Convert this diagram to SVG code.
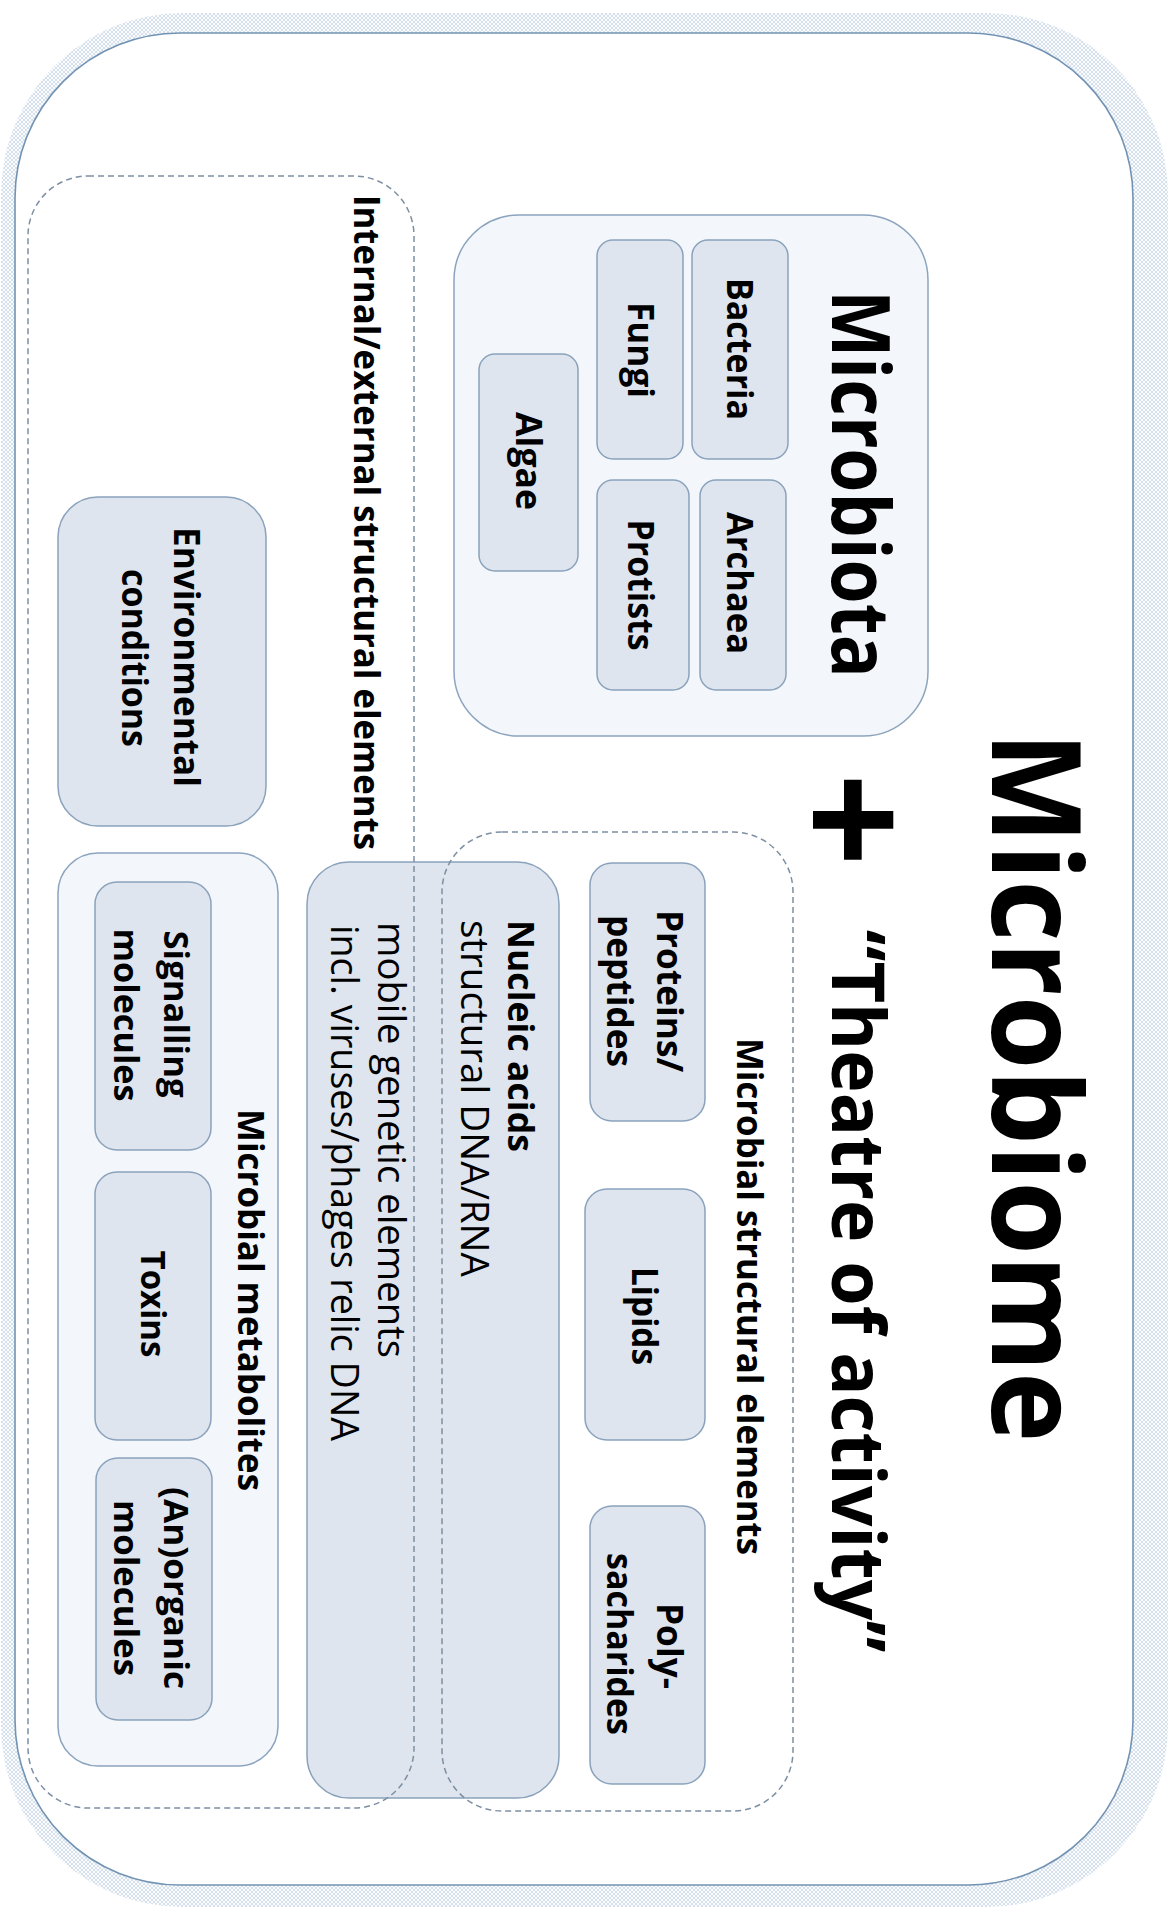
<svg xmlns="http://www.w3.org/2000/svg" width="1169" height="1914" viewBox="0 0 1169 1914">
<defs>
<pattern id="hatch" width="4" height="4" patternUnits="userSpaceOnUse">
<rect width="4" height="4" fill="#fbfcfe"/>
<path d="M0,0 L4,4 M4,0 L0,4" stroke="#bccddf" stroke-width="0.6"/>
</pattern>
</defs>
<style>
.t{font-family:"Open Sans","Noto Sans","DejaVu Sans",sans-serif;fill:#000}
.b{font-weight:700}
.r{font-weight:400}
.box{fill:#dfe5ee;stroke:#8aa2bc;stroke-width:1.5}
.cont{fill:#f3f6fa;stroke:#8ca4be;stroke-width:1.5}
.dash{fill:none;stroke:#7d8fa3;stroke-width:1.5;stroke-dasharray:6 4}
</style>
<rect width="1169" height="1914" fill="#ffffff"/>
<g id="frame">
<rect x="1" y="13" width="1167" height="1894" rx="182" ry="182" fill="url(#hatch)"/>
<rect x="15" y="33" width="1118" height="1852" rx="165" ry="165" fill="#ffffff" stroke="#7293b3" stroke-width="1.6"/>
</g>
<g id="title">
<text class="t b" font-size="124" text-anchor="middle" textLength="711" lengthAdjust="spacingAndGlyphs" transform="translate(992,1087) rotate(90)">Microbiome</text>
<text class="t b" font-size="165" text-anchor="middle" transform="translate(795,820) rotate(90)">+</text>
<text class="t b" font-size="74" text-anchor="middle" textLength="723" lengthAdjust="spacingAndGlyphs" transform="translate(832,1291) rotate(90)">“Theatre of activity”</text>
</g>
<g id="microbiota">
<rect class="cont" x="454" y="215" width="474" height="521" rx="65" ry="65"/>
<text class="t b" font-size="80" text-anchor="middle" textLength="388" lengthAdjust="spacingAndGlyphs" transform="translate(832,484) rotate(90)">Microbiota</text>
</g>
<g id="bacteria">
<rect class="box" x="692" y="240" width="96" height="219" rx="16" ry="16"/>
<text class="t b" font-size="35" text-anchor="middle" textLength="142" lengthAdjust="spacingAndGlyphs" transform="translate(727,349) rotate(90)">Bacteria</text>
</g>
<g id="archaea">
<rect class="box" x="700" y="480" width="86" height="210" rx="16" ry="16"/>
<text class="t b" font-size="35" text-anchor="middle" textLength="142" lengthAdjust="spacingAndGlyphs" transform="translate(727,583) rotate(90)">Archaea</text>
</g>
<g id="fungi">
<rect class="box" x="597" y="240" width="86" height="219" rx="16" ry="16"/>
<text class="t b" font-size="35" text-anchor="middle" textLength="96" lengthAdjust="spacingAndGlyphs" transform="translate(628,350) rotate(90)">Fungi</text>
</g>
<g id="protists">
<rect class="box" x="597" y="480" width="92" height="210" rx="16" ry="16"/>
<text class="t b" font-size="35" text-anchor="middle" textLength="131" lengthAdjust="spacingAndGlyphs" transform="translate(628,585) rotate(90)">Protists</text>
</g>
<g id="algae">
<rect class="box" x="479" y="354" width="99" height="217" rx="16" ry="16"/>
<text class="t b" font-size="35" text-anchor="middle" textLength="98" lengthAdjust="spacingAndGlyphs" transform="translate(516,461) rotate(90)">Algae</text>
</g>
<g id="environmental-conditions">
<rect class="box" x="58" y="497" width="208" height="329" rx="40" ry="40"/>
<text class="t b" font-size="36" text-anchor="middle" textLength="260" lengthAdjust="spacingAndGlyphs" transform="translate(174,657) rotate(90)">Environmental</text>
<text class="t b" font-size="36" text-anchor="middle" textLength="178" lengthAdjust="spacingAndGlyphs" transform="translate(122,658) rotate(90)">conditions</text>
</g>
<g id="microbial-metabolites">
<rect class="cont" x="58" y="853" width="220" height="913" rx="40" ry="40"/>
<text class="t b" font-size="36" textLength="382" lengthAdjust="spacingAndGlyphs" transform="translate(238,1109) rotate(90)">Microbial metabolites</text>
</g>
<g id="signalling-molecules">
<rect class="box" x="95" y="882" width="116" height="268" rx="22" ry="22"/>
<text class="t b" font-size="34" text-anchor="middle" textLength="167" lengthAdjust="spacingAndGlyphs" transform="translate(164,1014) rotate(90)">Signalling</text>
<text class="t b" font-size="34" text-anchor="middle" textLength="173" lengthAdjust="spacingAndGlyphs" transform="translate(114,1015) rotate(90)">molecules</text>
</g>
<g id="toxins">
<rect class="box" x="95" y="1172" width="116" height="268" rx="22" ry="22"/>
<text class="t b" font-size="34" text-anchor="middle" textLength="107" lengthAdjust="spacingAndGlyphs" transform="translate(141,1304) rotate(90)">Toxins</text>
</g>
<g id="anorganic-molecules">
<rect class="box" x="96" y="1458" width="116" height="262" rx="22" ry="22"/>
<text class="t b" font-size="34" text-anchor="middle" textLength="202" lengthAdjust="spacingAndGlyphs" transform="translate(164,1588) rotate(90)">(An)organic</text>
<text class="t b" font-size="34" text-anchor="middle" textLength="176" lengthAdjust="spacingAndGlyphs" transform="translate(114,1588) rotate(90)">molecules</text>
</g>
<g id="nucleic-acids">
<rect class="box" x="307" y="862" width="252" height="936" rx="42" ry="42"/>
<text class="t b" font-size="36" textLength="232" lengthAdjust="spacingAndGlyphs" transform="translate(508,920) rotate(90)">Nucleic acids</text>
<text class="t r" font-size="38" textLength="357" lengthAdjust="spacingAndGlyphs" transform="translate(461,920) rotate(90)">structural DNA/RNA</text>
<text class="t r" font-size="38" textLength="436" lengthAdjust="spacingAndGlyphs" transform="translate(378,922) rotate(90)">mobile genetic elements</text>
<text class="t r" font-size="38" textLength="516" lengthAdjust="spacingAndGlyphs" transform="translate(331,925) rotate(90)">incl. viruses/phages relic DNA</text>
</g>
<g id="proteins-peptides">
<rect class="box" x="590" y="863" width="115" height="258" rx="22" ry="22"/>
<text class="t b" font-size="36" text-anchor="middle" textLength="162" lengthAdjust="spacingAndGlyphs" transform="translate(657,991) rotate(90)">Proteins/</text>
<text class="t b" font-size="36" text-anchor="middle" textLength="152" lengthAdjust="spacingAndGlyphs" transform="translate(607,991) rotate(90)">peptides</text>
</g>
<g id="lipids">
<rect class="box" x="585" y="1189" width="120" height="251" rx="22" ry="22"/>
<text class="t b" font-size="36" text-anchor="middle" textLength="98" lengthAdjust="spacingAndGlyphs" transform="translate(632,1316) rotate(90)">Lipids</text>
</g>
<g id="polysacharides">
<rect class="box" x="590" y="1506" width="115" height="278" rx="22" ry="22"/>
<text class="t b" font-size="36" text-anchor="middle" textLength="86" lengthAdjust="spacingAndGlyphs" transform="translate(657,1646) rotate(90)">Poly-</text>
<text class="t b" font-size="36" text-anchor="middle" textLength="182" lengthAdjust="spacingAndGlyphs" transform="translate(607,1644) rotate(90)">sacharides</text>
</g>
<g id="internal-external-structural-elements">
<rect class="dash" x="28" y="176" width="386" height="1632" rx="60" ry="60"/>
<text class="t b" font-size="36" textLength="655" lengthAdjust="spacingAndGlyphs" transform="translate(354,195) rotate(90)">Internal/external structural elements</text>
</g>
<g id="microbial-structural-elements">
<rect class="dash" x="442" y="832" width="351" height="979" rx="60" ry="60"/>
<text class="t b" font-size="36" textLength="517" lengthAdjust="spacingAndGlyphs" transform="translate(737,1038) rotate(90)">Microbial structural elements</text>
</g>
<g id="connectors"></g>
</svg>
